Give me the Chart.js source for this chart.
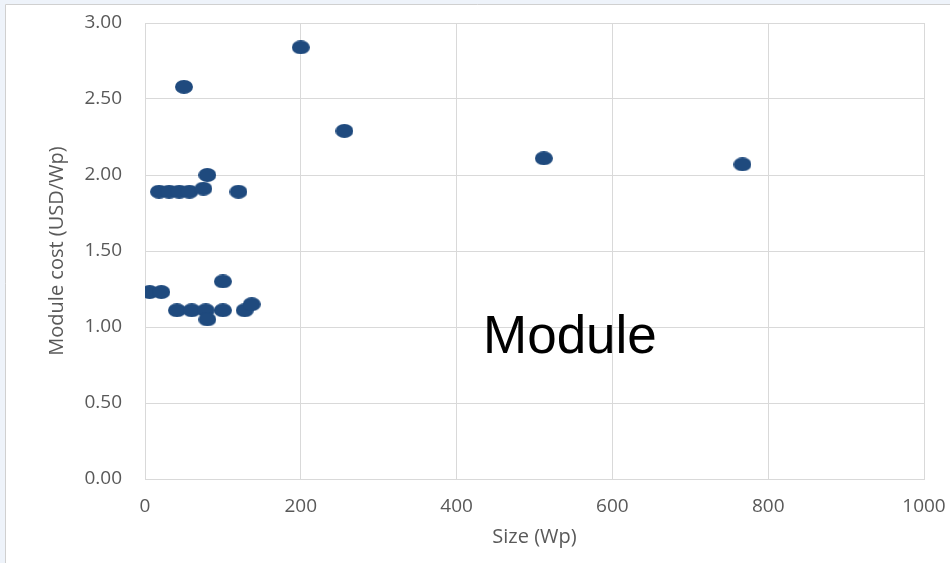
<!DOCTYPE html>
<html>
<head>
<meta charset="utf-8">
<title>Module cost vs size</title>
<script src="https://cdn.jsdelivr.net/npm/chart.js@4.4.1/dist/chart.umd.min.js"></script>
<style>
  html, body { margin: 0; padding: 0; background: #eef3fa; }
  #wrap { width: 950px; height: 563px; }
</style>
</head>
<body>
<div id="wrap"><canvas id="c" width="950" height="563"></canvas></div>
<script>
// Module size (Wp) and module cost (USD/Wp) for each surveyed product
const sizesWp = [6, 21, 41, 60, 78, 100, 128, 137, 80, 100,
                 18, 31, 44, 57, 75, 80, 120, 50, 200, 256, 512, 767];
const costUsdPerWp = [1.23, 1.23, 1.11, 1.11, 1.11, 1.11, 1.11, 1.15, 1.05, 1.30,
                      1.89, 1.89, 1.89, 1.89, 1.91, 2.00, 1.89, 2.58, 2.84, 2.29, 2.11, 2.07];

const xTicks = [0, 200, 400, 600, 800, 1000];
const yTicks = [0, 0.5, 1, 1.5, 2, 2.5, 3];

const MARKER = '#1f4a7e';
const GRID = '#d9d9d9';
const TEXT = '#595959';
const FONT = "'Open Sans', sans-serif";

// oval marker, slightly wider than tall
function ovalMarker(w, h, color) {
  const cv = document.createElement('canvas');
  cv.width = w; cv.height = h;
  const g = cv.getContext('2d');
  g.fillStyle = color;
  g.beginPath();
  g.ellipse(w / 2, h / 2, w / 2, h / 2, 0, 0, Math.PI * 2);
  g.fill();
  return cv;
}
const marker = ovalMarker(18, 14, MARKER);

const points = sizesWp.map((s, i) => ({ x: s, y: costUsdPerWp[i] }));

// panel frame behind the chart
const framePlugin = {
  id: 'frame',
  beforeDraw(chart) {
    const ctx = chart.ctx;
    ctx.save();
    ctx.fillStyle = '#eef3fa';
    ctx.fillRect(0, 0, chart.width, chart.height);
    ctx.fillStyle = '#ffffff';
    ctx.fillRect(5, 4, chart.width - 5, chart.height - 4);
    ctx.strokeStyle = '#d0d0d0';
    ctx.lineWidth = 1;
    ctx.beginPath();
    ctx.moveTo(5.5, chart.height);
    ctx.lineTo(5.5, 4.5);
    ctx.lineTo(chart.width, 4.5);
    ctx.stroke();
    ctx.restore();
  }
};

// "Module" caption inside the plot
const captionPlugin = {
  id: 'caption',
  beforeDatasetsDraw(chart) {
    const ctx = chart.ctx;
    ctx.save();
    ctx.fillStyle = '#000000';
    ctx.font = "53px 'Liberation Sans', Arial, sans-serif";
    ctx.textAlign = 'left';
    ctx.textBaseline = 'alphabetic';
    ctx.fillText('Module', 483, 353);
    ctx.restore();
  }
};

new Chart(document.getElementById('c'), {
  type: 'scatter',
  data: {
    datasets: [{
      label: 'Module',
      data: points,
      pointStyle: marker,
      backgroundColor: MARKER,
      borderColor: MARKER
    }]
  },
  options: {
    responsive: false,
    animation: false,
    devicePixelRatio: 1,
    layout: { padding: { left: 0, top: 23, right: 26, bottom: 0 } },
    plugins: {
      legend: { display: false },
      tooltip: { enabled: false }
    },
    scales: {
      x: {
        type: 'linear',
        min: 0,
        max: 1000,
        afterBuildTicks(scale) { scale.ticks = xTicks.map(v => ({ value: v })); },
        afterFit(scale) { scale.height = 84; },
        grid: { color: GRID, drawTicks: true, tickLength: 16, tickColor: 'rgba(0,0,0,0)' },
        border: { display: true, color: GRID },
        ticks: {
          color: TEXT,
          font: { family: FONT, size: 19 },
          padding: 0,
          maxRotation: 0,
          callback: v => String(v)
        },
        title: {
          display: true,
          text: 'Size (Wp)',
          color: TEXT,
          font: { family: FONT, size: 20 },
          padding: { top: 0, bottom: 14 }
        }
      },
      y: {
        type: 'linear',
        min: 0,
        max: 3,
        afterBuildTicks(scale) { scale.ticks = yTicks.map(v => ({ value: v })); },
        afterFit(scale) { scale.width = 145; },
        grid: { color: GRID, drawTicks: true, tickLength: 23, tickColor: 'rgba(0,0,0,0)' },
        border: { display: true, color: GRID },
        ticks: {
          color: TEXT,
          font: { family: FONT, size: 19 },
          padding: 0,
          callback: v => Number(v).toFixed(2)
        },
        title: {
          display: true,
          text: 'Module cost (USD/Wp)',
          color: TEXT,
          font: { family: FONT, size: 20 },
          padding: { top: 45, bottom: 0 }
        }
      }
    }
  },
  plugins: [framePlugin, captionPlugin]
});
</script>
</body>
</html>
